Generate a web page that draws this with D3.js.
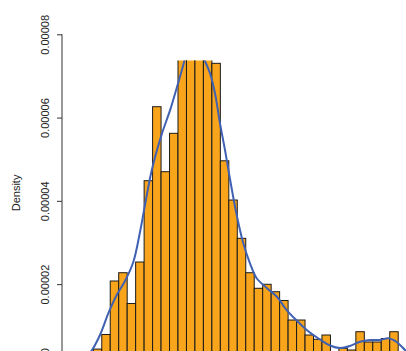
<!DOCTYPE html>
<html>
<head>
<meta charset="utf-8">
<script src="https://cdn.jsdelivr.net/npm/d3@7"></script>
<style>
html,body{margin:0;padding:0;background:#fff;}
svg{display:block;font-family:"Liberation Sans",Arial,sans-serif;}
</style>
</head>
<body>
<svg id="chart" width="406" height="351"></svg>
<script>
// Histogram bins (lower edges, bin width 1000)
const binStarts = [0,1000,2000,3000,4000,5000,6000,7000,8000,9000,10000,11000,12000,13000,14000,15000,16000,17000,
  18000,19000,20000,21000,22000,23000,24000,25000,26000,27000,28000,29000,30000,31000,32000,33000,34000,35000];
const binWidth = 1000;
// Density of each bin (x 1e-5)
const densities = [0.44,0.79,2.075,2.274,1.535,2.531,4.484,6.261,4.70,5.622,7.9,8.6,8.3,7.7,
  7.303,4.962,4.02,3.10,2.274,1.90,1.996,1.818,1.607,1.138,1.138,0.778,0.675,0.778,
  0.32,0.459,0.418,0.857,0.61,0.61,0.694,0.857];
// Kernel density curve
const curveX = [-2160,-980,-189,791,1771,2763,3743,4723,5514,6104,6895,8076,9056,9846,10626,10945,11417,11983,
  12580,12987,13188,13778,14368,14959,15549,16139,16930,17710,18501,19292,20473,21653,22834,24014,25195,26765,
  27946,29126,30307,31488,32668,33849,34829,35821,36801,37981,39162];
const curveY = [0.034,0.226,0.406,0.778,1.297,1.739,2.075,2.531,3.252,3.900,4.731,5.596,6.172,6.710,7.262,7.502,7.670,7.743,
  7.670,7.454,7.358,7.063,6.583,5.862,5.221,4.524,3.659,2.980,2.500,2.140,1.907,1.703,1.378,1.126,0.898,0.670,
  0.526,0.466,0.514,0.617,0.658,0.658,0.699,0.610,0.418,0.178,0.034];
const yTicks = [0,0.00002,0.00004,0.00006,0.00008];
const yTickLabels = ["0.00000","0.00002","0.00004","0.00006","0.00008"];
const yTitle = "Density";

const svg = d3.select("#chart");
const x = d3.scaleLinear().domain([0, 36000]).range([93.3, 398.2]);
const y = d3.scaleLinear().domain([0, 0.00008]).range([367.4, 34.3]);
const axisX = 62;

svg.append("defs").append("clipPath").attr("id","plotclip")
  .append("rect").attr("x", axisX).attr("y", 60.5).attr("width", 406 - axisX).attr("height", 400);

const plot = svg.append("g").attr("clip-path","url(#plotclip)");

plot.selectAll("rect.bar").data(binStarts).enter().append("rect")
  .attr("class","bar")
  .attr("x", d => x(d))
  .attr("width", d => x(d + binWidth) - x(d))
  .attr("y", (d,i) => y(densities[i]*1e-5))
  .attr("height", (d,i) => y(0) - y(densities[i]*1e-5))
  .attr("fill", "#F9A51C")
  .attr("stroke", "#1a1a1a")
  .attr("stroke-width", 1);

const line = d3.line()
  .x((d,i) => x(curveX[i]))
  .y((d,i) => y(curveY[i]*1e-5))
  .curve(d3.curveCatmullRom);
plot.append("path").datum(curveX)
  .attr("d", line)
  .attr("fill","none")
  .attr("stroke","#4060B2")
  .attr("stroke-width",2);

const yAxis = d3.axisLeft(y).tickValues(yTicks).tickFormat((d,i) => yTickLabels[i]).tickSize(5).tickPadding(3);
const ag = svg.append("g").attr("transform", `translate(${axisX},0)`).call(yAxis);
ag.select(".domain").attr("d", `M-5,${y(0.00008)}H0V${y(0)}`).attr("stroke","#333").attr("d", `M0,${y(0.00008)}V${y(0)}`);
ag.selectAll(".tick line").attr("stroke","#333");
ag.selectAll(".tick text")
  .attr("font-size", 11)
  .attr("fill", "#222")
  .attr("transform", "rotate(-90)")
  .attr("x", 0)
  .attr("y", -13.5)
  .attr("dy", 0)
  .attr("text-anchor","middle")
  .attr("font-family", "\"Liberation Sans\",Arial,sans-serif");

svg.append("text")
  .attr("transform", `translate(19.5,${y(0.0000419)}) rotate(-90)`)
  .attr("text-anchor","middle")
  .attr("font-size", 11)
  .attr("fill","#222")
  .text(yTitle);
</script>
</body>
</html>
